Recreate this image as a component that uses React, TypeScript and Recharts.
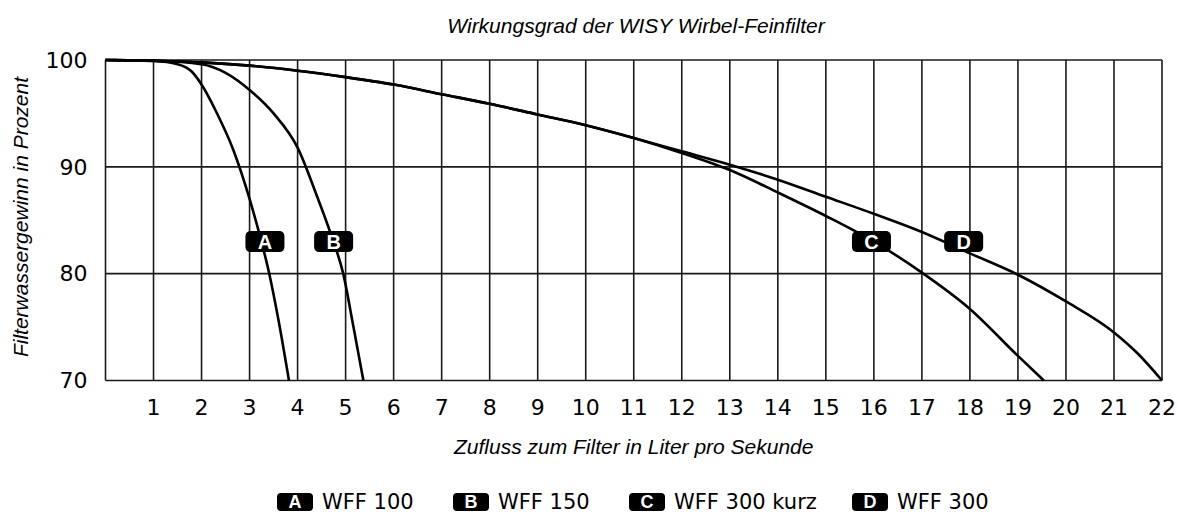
import React from 'react'
import {
  LineChart,
  Line,
  XAxis,
  YAxis,
  CartesianGrid,
  ReferenceDot
} from 'recharts'

// Filterwassergewinn (%) over Zufluss (l/s)
const wff100 = [
  { x: 0, y: 100 }, { x: 1, y: 99.9 }, { x: 1.5, y: 99.6 }, { x: 1.8, y: 98.9 },
  { x: 2, y: 97.7 }, { x: 2.3, y: 95.2 }, { x: 2.66, y: 91.6 }, { x: 3, y: 87 },
  { x: 3.2, y: 83.8 }, { x: 3.4, y: 80.2 }, { x: 3.6, y: 75.7 }, { x: 3.82, y: 70 }
]

const wff150 = [
  { x: 0, y: 100 }, { x: 1, y: 99.93 }, { x: 2, y: 99.6 }, { x: 2.5, y: 98.8 },
  { x: 3, y: 97.2 }, { x: 3.5, y: 95 }, { x: 4, y: 91.8 }, { x: 4.4, y: 87.3 },
  { x: 4.7, y: 83.6 }, { x: 4.95, y: 80 }, { x: 5.16, y: 75.1 }, { x: 5.37, y: 70 }
]

const wff300kurz = [
  { x: 0, y: 100 }, { x: 1, y: 99.93 }, { x: 2, y: 99.78 }, { x: 3, y: 99.47 },
  { x: 4, y: 99 }, { x: 5, y: 98.4 }, { x: 6, y: 97.7 }, { x: 7, y: 96.8 },
  { x: 8, y: 95.9 }, { x: 9, y: 94.9 }, { x: 10, y: 93.9 }, { x: 11, y: 92.7 },
  { x: 12, y: 91.3 }, { x: 13, y: 89.7 }, { x: 14, y: 87.6 }, { x: 15, y: 85.4 },
  { x: 16, y: 83 }, { x: 17, y: 80.1 }, { x: 18, y: 76.7 }, { x: 19, y: 72.3 },
  { x: 19.54, y: 70 }
]

const wff300 = [
  { x: 0, y: 100 }, { x: 1, y: 99.93 }, { x: 2, y: 99.78 }, { x: 3, y: 99.47 },
  { x: 4, y: 99 }, { x: 5, y: 98.4 }, { x: 6, y: 97.7 }, { x: 7, y: 96.8 },
  { x: 8, y: 95.9 }, { x: 9, y: 94.9 }, { x: 10, y: 93.9 }, { x: 11, y: 92.7 },
  { x: 12, y: 91.45 }, { x: 13, y: 90.2 }, { x: 14, y: 88.8 }, { x: 15, y: 87.2 },
  { x: 16, y: 85.6 }, { x: 17, y: 83.9 }, { x: 18, y: 81.9 }, { x: 19, y: 79.9 },
  { x: 20, y: 77.4 }, { x: 21, y: 74.5 }, { x: 21.5, y: 72.5 }, { x: 22, y: 70 }
]

const xTicks = [0, 1, 2, 3, 4, 5, 6, 7, 8, 9, 10, 11, 12, 13, 14, 15, 16, 17, 18, 19, 20, 21, 22]
const yTicks = [70, 80, 90, 100]

const curveMarks = [
  { key: 'A', x: 3.32, y: 83 },
  { key: 'B', x: 4.75, y: 83 },
  { key: 'C', x: 15.95, y: 83 },
  { key: 'D', x: 17.87, y: 83 }
]

const legendItems = [
  { key: 'A', name: 'WFF 100' },
  { key: 'B', name: 'WFF 150' },
  { key: 'C', name: 'WFF 300 kurz' },
  { key: 'D', name: 'WFF 300' }
]
const legendLeft = [277, 453, 629, 852]

const series = [wff100, wff150, wff300kurz, wff300]

const titleFont = '"Liberation Sans", Arial, sans-serif'
const tickFont = '"DejaVu Sans", sans-serif'

const MarkBox = (props: any) => {
  const { cx, cy, letter } = props
  if (cx == null || cy == null) return null
  return (
    <g>
      <rect x={cx - 19.5} y={cy - 10.5} width={39} height={21} rx={5} fill="#000" />
      <text
        x={cx}
        y={cy + 7}
        textAnchor="middle"
        fill="#fff"
        fontFamily={titleFont}
        fontWeight="bold"
        fontSize={20}
      >
        {letter}
      </text>
    </g>
  )
}

export default function App() {
  return (
    <div style={{ position: 'relative', width: 1177, height: 512, background: '#fff' }}>
      <style>{'body{margin:0}'}</style>
      <div
        style={{
          position: 'absolute',
          left: 0,
          width: 1272,
          top: 14,
          textAlign: 'center',
          fontFamily: titleFont,
          fontStyle: 'italic',
          fontSize: 21,
          lineHeight: '24px',
          color: '#000'
        }}
      >
        Wirkungsgrad der WISY Wirbel-Feinfilter
      </div>
      <LineChart
        width={1177}
        height={512}
        margin={{ top: 60, right: 15, left: 0, bottom: 71.5 }}
      >
        <CartesianGrid stroke="#1a1a1a" strokeWidth={1.6} />
        <XAxis
          type="number"
          dataKey="x"
          domain={[0, 22]}
          ticks={xTicks}
          interval={0}
          height={60}
          axisLine={false}
          tickLine={false}
          tickMargin={13}
          tickFormatter={(v: number) => (v === 0 ? '' : String(v))}
          tick={{ fill: '#000', fontSize: 22, fontFamily: tickFont }}
          label={{
            content: (p: any) => (
              <text
                x={p.viewBox.x + p.viewBox.width / 2}
                y={p.viewBox.y + 73.5}
                textAnchor="middle"
                fontFamily={titleFont}
                fontStyle="italic"
                fontSize={21}
                fill="#000"
              >
                Zufluss zum Filter in Liter pro Sekunde
              </text>
            )
          }}
        />
        <YAxis
          type="number"
          domain={[70, 100]}
          ticks={yTicks}
          width={105.5}
          axisLine={false}
          tickLine={false}
          tickMargin={12}
          tick={{ fill: '#000', fontSize: 22, fontFamily: tickFont }}
          label={{
            content: () => (
              <text
                x={20}
                y={217}
                transform="rotate(-90 20 217)"
                textAnchor="middle"
                dominantBaseline="central"
                fontFamily={titleFont}
                fontStyle="italic"
                fontSize={21}
                fill="#000"
              >
                Filterwassergewinn in Prozent
              </text>
            )
          }}
        />
        {series.map((s, i) => (
          <Line
            key={legendItems[i].key}
            data={s}
            dataKey="y"
            type="monotone"
            stroke="#000"
            strokeWidth={2.6}
            dot={false}
            activeDot={false}
            isAnimationActive={false}
          />
        ))}
        {curveMarks.map((m) => (
          <ReferenceDot
            key={m.key}
            x={m.x}
            y={m.y}
            shape={(p: any) => <MarkBox {...p} letter={m.key} />}
          />
        ))}
      </LineChart>
      {legendItems.map((item, i) => (
        <div
          key={item.key}
          style={{
            position: 'absolute',
            left: legendLeft[i],
            top: 491,
            height: 22,
            display: 'flex',
            alignItems: 'center',
            whiteSpace: 'nowrap'
          }}
        >
          <span
            style={{
              display: 'inline-block',
              width: 36,
              height: 18,
              borderRadius: 4,
              background: '#000',
              color: '#fff',
              fontFamily: titleFont,
              fontWeight: 'bold',
              fontSize: 18,
              lineHeight: '19px',
              textAlign: 'center'
            }}
          >
            {item.key}
          </span>
          <span
            style={{
              marginLeft: 9,
              fontFamily: tickFont,
              fontSize: 21,
              lineHeight: '22px',
              color: '#000'
            }}
          >
            {item.name}
          </span>
        </div>
      ))}
    </div>
  )
}
